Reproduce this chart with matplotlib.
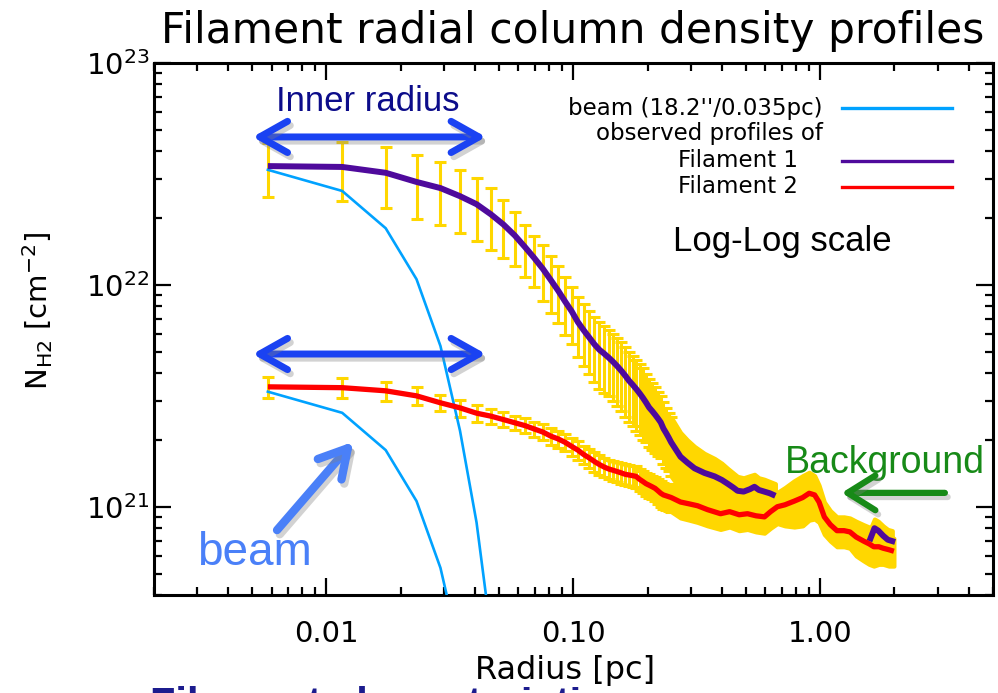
import numpy as np
import matplotlib
matplotlib.use("Agg")
import matplotlib.pyplot as plt
import matplotlib.patheffects as pe
from matplotlib.lines import Line2D
from matplotlib.ticker import FuncFormatter, NullFormatter, LogLocator

# column densities in units of 1e21 cm^-2, radius in pc
r_inner = [0.0058, 0.0116, 0.0174, 0.0232, 0.0290, 0.0348, 0.0406, 0.0464, 0.0522, 0.0580,
           0.0638, 0.0696, 0.0754, 0.0812, 0.0870, 0.0928, 0.0986, 0.1044, 0.1102, 0.1160,
           0.1218, 0.1276, 0.1334, 0.1392, 0.1450, 0.1508, 0.1566, 0.1624, 0.1682, 0.1740,
           0.1798, 0.1856, 0.1914, 0.1972, 0.2030, 0.2088, 0.2146, 0.2204, 0.2262, 0.2320,
           0.2378, 0.2436, 0.2494]

fil1_inner = [34.3, 34.0, 32.0, 29.1, 27.3, 25.1, 23.1, 20.8, 18.7, 16.7,
              14.8, 13.2, 11.8, 10.5, 9.4, 8.4, 7.6, 6.8, 6.25, 5.8,
              5.4, 5.1, 4.9, 4.7, 4.5, 4.3, 4.1, 3.9, 3.7, 3.55,
              3.4, 3.25, 3.1, 2.95, 2.8, 2.7, 2.6, 2.5, 2.4, 2.25,
              2.15, 2.05, 1.95]
fil1_inner_err = [9.4, 10.0, 9.7, 9.2, 8.6, 8.0, 7.3, 6.4, 5.5, 4.6,
                  3.9, 3.4, 3.3, 3.0, 2.7, 2.45, 2.2, 2.05, 1.95, 1.85,
                  1.75, 1.7, 1.65, 1.55, 1.5, 1.45, 1.4, 1.35, 1.3, 1.25,
                  1.2, 1.15, 1.1, 1.0, 0.95, 0.9, 0.85, 0.8, 0.75, 0.7,
                  0.65, 0.6, 0.58]

fil2_inner = [3.47, 3.44, 3.33, 3.16, 2.94, 2.79, 2.64, 2.56, 2.47, 2.39,
              2.32, 2.24, 2.17, 2.08, 2.02, 1.95, 1.87, 1.80, 1.72, 1.66,
              1.60, 1.55, 1.51, 1.48, 1.46, 1.44, 1.42, 1.40, 1.39, 1.38,
              1.37, 1.33, 1.30, 1.27, 1.25, 1.23, 1.21, 1.18, 1.15, 1.13,
              1.12, 1.11, 1.10]
fil2_inner_err = [0.38, 0.36, 0.33, 0.29, 0.25, 0.24, 0.23, 0.20, 0.19, 0.18,
                  0.18, 0.18, 0.18, 0.18, 0.18, 0.17, 0.17, 0.17, 0.16, 0.16,
                  0.16, 0.16, 0.15, 0.15, 0.15, 0.15, 0.15, 0.15, 0.15, 0.15,
                  0.15, 0.15, 0.15, 0.15, 0.15, 0.15, 0.15, 0.15, 0.15, 0.15,
                  0.15, 0.15, 0.15]

# outer parts, where the error bars merge into a band
r1_outer = [0.2494, 0.272, 0.29, 0.31, 0.34, 0.374, 0.40, 0.422, 0.445, 0.463,
            0.49, 0.52, 0.542, 0.565, 0.594, 0.625, 0.659]
fil1_outer = [1.95, 1.68, 1.58, 1.49, 1.42, 1.37, 1.32, 1.27, 1.22, 1.18,
              1.17, 1.20, 1.23, 1.19, 1.17, 1.15, 1.12]
fil1_outer_err = [0.58, 0.48, 0.42, 0.38, 0.32, 0.28, 0.25, 0.22, 0.20, 0.19,
                  0.18, 0.18, 0.17, 0.16, 0.16, 0.15, 0.15]

r1_far = [1.60, 1.66, 1.72, 1.80, 1.88, 1.96]
fil1_far = [0.72, 0.80, 0.78, 0.74, 0.71, 0.70]
fil1_far_err = [0.08, 0.08, 0.08, 0.08, 0.08, 0.08]

r2_outer = [0.2494, 0.272, 0.295, 0.319, 0.35, 0.395, 0.43, 0.47, 0.508, 0.55,
            0.595, 0.63, 0.671, 0.72, 0.786, 0.85, 0.903, 0.95, 0.99, 1.04,
            1.10, 1.17, 1.25, 1.32, 1.40, 1.50, 1.58, 1.65, 1.73, 1.80,
            1.90, 1.99]
fil2_outer = [1.10, 1.05, 1.03, 1.01, 0.97, 0.93, 0.95, 0.92, 0.93, 0.91,
              0.90, 0.95, 1.00, 1.02, 1.06, 1.10, 1.15, 1.13, 1.05, 0.90,
              0.83, 0.78, 0.78, 0.77, 0.73, 0.70, 0.68, 0.66, 0.66, 0.65,
              0.64, 0.63]
fil2_outer_err = [0.15, 0.16, 0.16, 0.16, 0.15, 0.14, 0.14, 0.14, 0.14, 0.14,
                  0.14, 0.15, 0.16, 0.20, 0.25, 0.28, 0.28, 0.25, 0.20, 0.15,
                  0.13, 0.12, 0.12, 0.12, 0.13, 0.13, 0.13, 0.12, 0.11, 0.10,
                  0.10, 0.09]

beam_r = [0.0058, 0.0116, 0.0174, 0.0232, 0.0290, 0.0348, 0.0406, 0.0464]
beam_hi = [33.0, 26.5, 18.0, 10.6, 5.3, 2.2, 0.85, 0.27]
beam_lo = [3.3, 2.65, 1.8, 1.06, 0.53, 0.22, 0.085, 0.027]

GOLD = "#ffd700"
PURPLE = "#4f0a9c"
RED = "#ff0000"
BEAMC = "#00a2ff"
ARROW = "#1a42f2"

fig = plt.figure(figsize=(9.98, 6.93), dpi=100)
ax = fig.add_axes([0.154, 0.1414, 0.8407, 0.7677])

sc = 1e21


def arr(v):
    return np.array(v) * sc


# error bars for the inner points
for n, e in [(fil1_inner, fil1_inner_err), (fil2_inner, fil2_inner_err)]:
    ax.errorbar(r_inner, arr(n), yerr=arr(e), fmt="none", ecolor=GOLD,
                elinewidth=2.2, capsize=4, capthick=2.2, zorder=2)

# bands
for r, n, e in [(r1_outer, fil1_outer, fil1_outer_err),
                (r2_outer, fil2_outer, fil2_outer_err),
                (r1_far, fil1_far, fil1_far_err)]:
    n = arr(n)
    e = arr(e)
    ax.fill_between(r, n - e, n + e, color=GOLD, lw=3, edgecolor=GOLD, zorder=2)

ax.plot(beam_r, arr(beam_hi), color=BEAMC, lw=1.9, zorder=3)
ax.plot(beam_r, arr(beam_lo), color=BEAMC, lw=1.9, zorder=3)

ax.plot(r_inner + r1_outer[1:], arr(fil1_inner + fil1_outer[1:]), color=PURPLE, lw=4.3,
        zorder=4, solid_capstyle="butt")
ax.plot(r1_far, arr(fil1_far), color=PURPLE, lw=4.3, zorder=4)
ax.plot(r_inner + r2_outer[1:], arr(fil2_inner + fil2_outer[1:]), color=RED, lw=3.8,
        zorder=5, solid_capstyle="butt")

ax.set_xscale("log")
ax.set_yscale("log")
ax.set_xlim(0.002, 5)
ax.set_ylim(4e20, 1e23)

ax.set_xticks([0.01, 0.1, 1.0])
ax.xaxis.set_major_formatter(FuncFormatter(lambda v, p: "%.2f" % v))
ax.xaxis.set_minor_formatter(NullFormatter())
ax.set_yticks([1e21, 1e22, 1e23])
ax.yaxis.set_minor_locator(LogLocator(base=10, subs=np.arange(2, 10)))
ax.yaxis.set_minor_formatter(NullFormatter())

ax.tick_params(which="both", direction="in", top=True, right=True, width=1.6)
ax.tick_params(which="major", length=12, labelsize=21)
ax.tick_params(which="minor", length=6)
ax.tick_params(axis="x", pad=18)
ax.tick_params(axis="y", pad=3)
for s in ax.spines.values():
    s.set_linewidth(2.2)

ax.set_xlabel("Radius [pc]", fontsize=23,
              bbox=dict(facecolor="white", edgecolor="none", pad=1))
ax.xaxis.set_label_coords(0.49, -0.112)
ax.set_ylabel(r"N$_{\mathregular{H2}}$ [cm$^{-2}$]", fontsize=21)
ax.yaxis.set_label_coords(-0.118, 0.534)

fig.text(0.574, 0.955, "Filament radial column density profiles", fontsize=30.5,
         ha="center", va="center")

# legend drawn by hand, like the original
leg_rows = [(0.915, "beam (18.2''/0.035pc)", 0.797, BEAMC),
            (0.868, "observed profiles of", 0.797, None),
            (0.816, "Filament 1", 0.768, PURPLE),
            (0.767, "Filament 2", 0.768, RED)]
for y, txt, xr, c in leg_rows:
    ax.text(xr, y, txt, transform=ax.transAxes, ha="right", va="center", fontsize=16.5)
    if c is not None:
        ax.add_line(Line2D([0.820, 0.952], [y, y], transform=ax.transAxes, color=c, lw=2.4))

sans = "Liberation Sans"
shadow = [pe.SimpleLineShadow(offset=(2, -3), shadow_color="gray", alpha=0.35), pe.Normal()]

ax.text(0.255, 0.927, "Inner radius", transform=ax.transAxes, ha="center", va="center",
        fontsize=25, family=sans, color="#0c0c8a")
for y in [0.861, 0.453]:
    ax.annotate("", xy=(0.396, y), xytext=(0.118, y), xycoords="axes fraction",
                arrowprops=dict(arrowstyle="<->,head_length=0.8,head_width=0.45", lw=5,
                                color=ARROW, mutation_scale=25, shrinkA=0, shrinkB=0,
                                capstyle="round", joinstyle="round", path_effects=shadow))

ax.text(0.749, 0.665, "Log-Log scale", transform=ax.transAxes, ha="center", va="center",
        fontsize=25, family=sans, color="black")

ax.text(0.120, 0.056, "beam", transform=ax.transAxes, ha="center", va="baseline",
        fontsize=33, family=sans, color="#4a80f8")
ax.annotate("", xy=(0.238, 0.288), xytext=(0.147, 0.122), xycoords="axes fraction",
            arrowprops=dict(arrowstyle="->,head_length=0.8,head_width=0.45", lw=6,
                            color="#4a80f8", mutation_scale=25, shrinkA=0, shrinkB=0,
                            capstyle="round", joinstyle="round", path_effects=shadow))

ax.text(0.871, 0.229, "Background", transform=ax.transAxes, ha="center", va="baseline",
        fontsize=27, family=sans, color="#178a17")
ax.annotate("", xy=(0.820, 0.192), xytext=(0.943, 0.192), xycoords="axes fraction",
            arrowprops=dict(arrowstyle="->,head_length=0.8,head_width=0.5", lw=4.5,
                            color="#178a17", mutation_scale=25, shrinkA=0, shrinkB=0,
                            capstyle="round", joinstyle="round", path_effects=shadow))

fig.text(0.15, 0.010, "Filament characteristics", fontsize=30, fontweight="bold",
         family=sans, color="#1c1c8e", va="top", zorder=-1)

fig.savefig("out.png", dpi=100)
